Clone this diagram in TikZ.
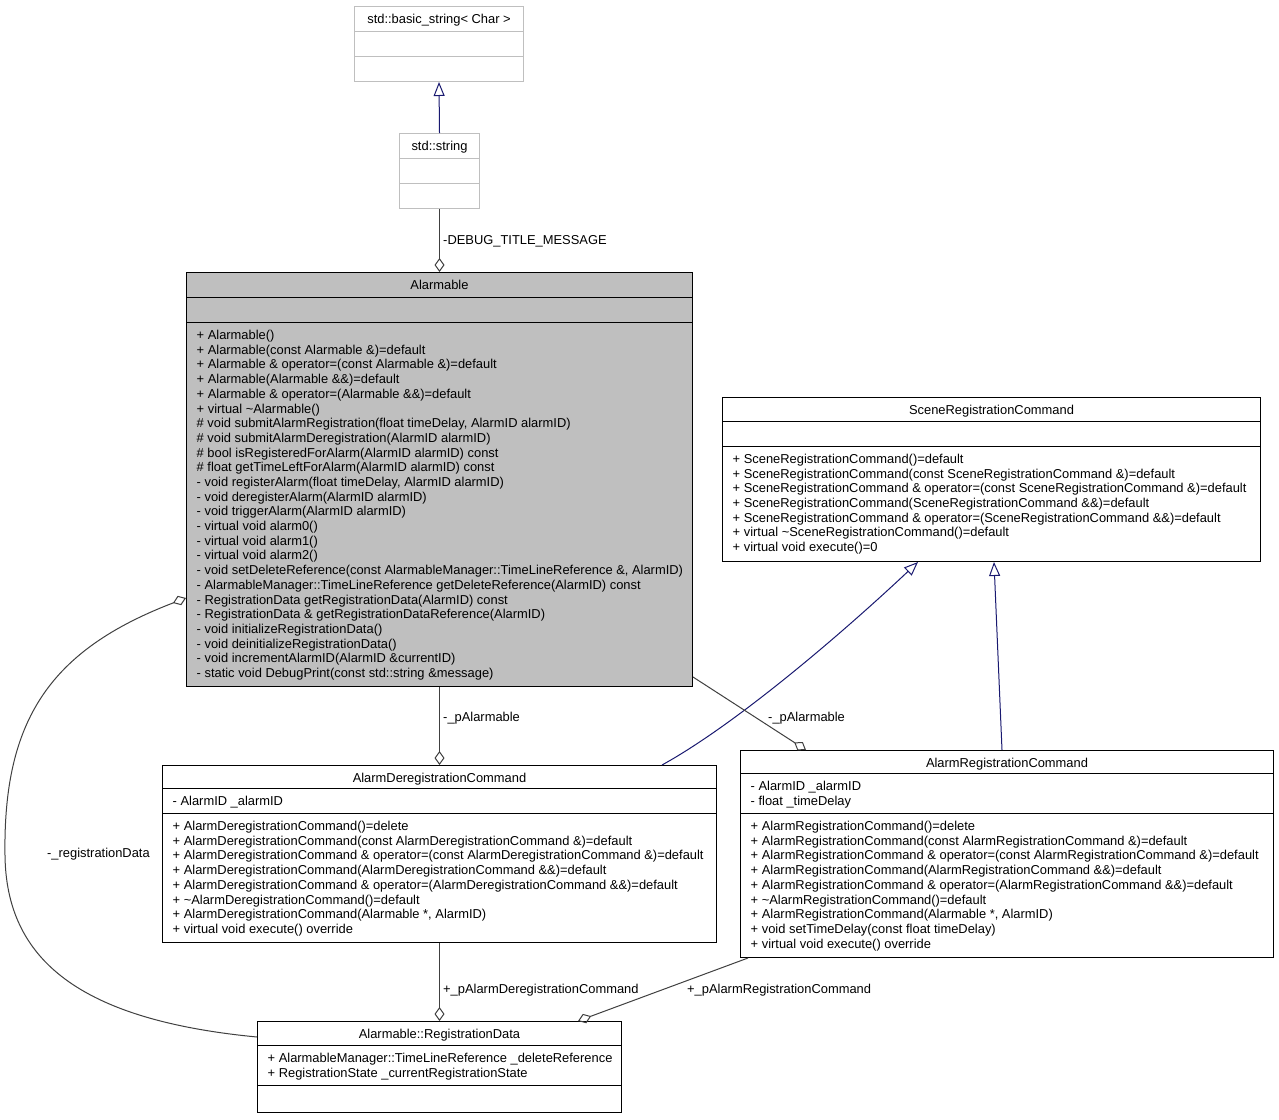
\documentclass[tikz,border=0pt]{standalone}
\usepackage{fontspec}
\setmainfont{Liberation Sans}
\usepackage{tikz}
\usetikzlibrary{arrows.meta, positioning, calc}
\definecolor{edgegray}{RGB}{64,64,64}
\definecolor{inheritblue}{RGB}{25,25,112}
\definecolor{extgray}{RGB}{191,191,191}
\definecolor{classfill}{RGB}{191,191,191}
\newcommand{\umlfont}{\fontsize{12.9}{14.7}\selectfont}
\tikzset{
  classbox/.style={draw=black, line width=1pt, fill=white, anchor=north west, inner sep=0pt},
  extbox/.style={classbox, draw=extgray},
  classtitle/.style={anchor=base, inner sep=0pt, font=\umlfont},
  members/.style={anchor=north west, inner sep=0pt, align=left, font=\umlfont},
  rolelabel/.style={anchor=base west, inner sep=0pt, font=\umlfont},
  aggr/.style={draw=edgegray, line width=1pt, -{Diamond[open, length=14pt, width=10pt]}},
  inherit/.style={draw=inheritblue, line width=1pt, -{Triangle[open, length=14pt, width=11pt]}},
}

\begin{document}
\begin{tikzpicture}[x=1pt, y=-1pt]
    \path[fill=white] (0,0) rectangle (1279,1119);

    % external string classes
    \node[extbox, minimum width=169pt, minimum height=75pt] (basicstring) at (354,6) {};
    \draw[extgray, line width=1pt] ([yshift=-25pt]basicstring.north west) -- ([yshift=-25pt]basicstring.north east)
                                   ([yshift=-50pt]basicstring.north west) -- ([yshift=-50pt]basicstring.north east);
    \node[classtitle] (basicstringtitle) at ([yshift=-17.5pt]basicstring.north) {std::basic\_string< Char >};

    \node[extbox, minimum width=80pt, minimum height=75pt] (stdstring) at (399,133) {};
    \draw[extgray, line width=1pt] ([yshift=-25pt]stdstring.north west) -- ([yshift=-25pt]stdstring.north east)
                                   ([yshift=-50pt]stdstring.north west) -- ([yshift=-50pt]stdstring.north east);
    \node[classtitle] (stdstringtitle) at ([yshift=-17.5pt]stdstring.north) {std::string};

    % Alarmable
    \node[classbox, fill=classfill, minimum width=506pt, minimum height=414pt] (alarmable) at (186,272) {};
    \draw[line width=1pt] ([yshift=-25pt]alarmable.north west) -- ([yshift=-25pt]alarmable.north east)
                          ([yshift=-50pt]alarmable.north west) -- ([yshift=-50pt]alarmable.north east);
    \node[classtitle] (alarmabletitle) at ([yshift=-17.5pt]alarmable.north) {Alarmable};
    \node[members] (alarmableops) at ([xshift=10.5pt, yshift=-57pt]alarmable.north west)
      {\strut + Alarmable()\\
       + Alarmable(const Alarmable \&)=default\\
       + Alarmable \& operator=(const Alarmable \&)=default\\
       + Alarmable(Alarmable \&\&)=default\\
       + Alarmable \& operator=(Alarmable \&\&)=default\\
       + virtual \textasciitilde Alarmable()\\
       \# void submitAlarmRegistration(float timeDelay, AlarmID alarmID)\\
       \# void submitAlarmDeregistration(AlarmID alarmID)\\
       \# bool isRegisteredForAlarm(AlarmID alarmID) const\\
       \# float getTimeLeftForAlarm(AlarmID alarmID) const\\
       - void registerAlarm(float timeDelay, AlarmID alarmID)\\
       - void deregisterAlarm(AlarmID alarmID)\\
       - void triggerAlarm(AlarmID alarmID)\\
       - virtual void alarm0()\\
       - virtual void alarm1()\\
       - virtual void alarm2()\\
       - void setDeleteReference(const AlarmableManager::TimeLineReference \&, AlarmID)\\
       - AlarmableManager::TimeLineReference getDeleteReference(AlarmID) const\\
       - RegistrationData getRegistrationData(AlarmID) const\\
       - RegistrationData \& getRegistrationDataReference(AlarmID)\\
       - void initializeRegistrationData()\\
       - void deinitializeRegistrationData()\\
       - void incrementAlarmID(AlarmID \&currentID)\\
       - static void DebugPrint(const std::string \&message)};

    % SceneRegistrationCommand
    \node[classbox, minimum width=538pt, minimum height=164pt] (scene) at (722,397) {};
    \draw[line width=1pt] ([yshift=-24pt]scene.north west) -- ([yshift=-24pt]scene.north east)
                          ([yshift=-49pt]scene.north west) -- ([yshift=-49pt]scene.north east);
    \node[classtitle] (scenetitle) at ([yshift=-17.5pt]scene.north) {SceneRegistrationCommand};
    \node[members] (sceneops) at ([xshift=10.5pt, yshift=-56pt]scene.north west)
      {\strut + SceneRegistrationCommand()=default\\
       + SceneRegistrationCommand(const SceneRegistrationCommand \&)=default\\
       + SceneRegistrationCommand \& operator=(const SceneRegistrationCommand \&)=default\\
       + SceneRegistrationCommand(SceneRegistrationCommand \&\&)=default\\
       + SceneRegistrationCommand \& operator=(SceneRegistrationCommand \&\&)=default\\
       + virtual \textasciitilde SceneRegistrationCommand()=default\\
       + virtual void execute()=0};

    % AlarmDeregistrationCommand
    \node[classbox, minimum width=554pt, minimum height=177pt] (dereg) at (162,765) {};
    \draw[line width=1pt] ([yshift=-23pt]dereg.north west) -- ([yshift=-23pt]dereg.north east)
                          ([yshift=-48pt]dereg.north west) -- ([yshift=-48pt]dereg.north east);
    \node[classtitle] (deregtitle) at ([yshift=-17pt]dereg.north) {AlarmDeregistrationCommand};
    \node[members] (deregattrs) at ([xshift=10.5pt, yshift=-30pt]dereg.north west)
      {\strut - AlarmID \_alarmID};
    \node[members] (deregops) at ([xshift=10.5pt, yshift=-55pt]dereg.north west)
      {\strut + AlarmDeregistrationCommand()=delete\\
       + AlarmDeregistrationCommand(const AlarmDeregistrationCommand \&)=default\\
       + AlarmDeregistrationCommand \& operator=(const AlarmDeregistrationCommand \&)=default\\
       + AlarmDeregistrationCommand(AlarmDeregistrationCommand \&\&)=default\\
       + AlarmDeregistrationCommand \& operator=(AlarmDeregistrationCommand \&\&)=default\\
       + \textasciitilde AlarmDeregistrationCommand()=default\\
       + AlarmDeregistrationCommand(Alarmable *, AlarmID)\\
       + virtual void execute() override};

    % AlarmRegistrationCommand
    \node[classbox, minimum width=533pt, minimum height=207pt] (reg) at (740,750) {};
    \draw[line width=1pt] ([yshift=-23pt]reg.north west) -- ([yshift=-23pt]reg.north east)
                          ([yshift=-63pt]reg.north west) -- ([yshift=-63pt]reg.north east);
    \node[classtitle] (regtitle) at ([yshift=-17pt]reg.north) {AlarmRegistrationCommand};
    \node[members] (regattrs) at ([xshift=10.5pt, yshift=-30pt]reg.north west)
      {\strut - AlarmID \_alarmID\\
       - float \_timeDelay};
    \node[members] (regops) at ([xshift=10.5pt, yshift=-70pt]reg.north west)
      {\strut + AlarmRegistrationCommand()=delete\\
       + AlarmRegistrationCommand(const AlarmRegistrationCommand \&)=default\\
       + AlarmRegistrationCommand \& operator=(const AlarmRegistrationCommand \&)=default\\
       + AlarmRegistrationCommand(AlarmRegistrationCommand \&\&)=default\\
       + AlarmRegistrationCommand \& operator=(AlarmRegistrationCommand \&\&)=default\\
       + \textasciitilde AlarmRegistrationCommand()=default\\
       + AlarmRegistrationCommand(Alarmable *, AlarmID)\\
       + void setTimeDelay(const float timeDelay)\\
       + virtual void execute() override};

    % Alarmable::RegistrationData
    \node[classbox, minimum width=364pt, minimum height=91pt] (regdata) at (257,1021) {};
    \draw[line width=1pt] ([yshift=-24pt]regdata.north west) -- ([yshift=-24pt]regdata.north east)
                          ([yshift=-64pt]regdata.north west) -- ([yshift=-64pt]regdata.north east);
    \node[classtitle] (regdatatitle) at ([yshift=-17.5pt]regdata.north) {Alarmable::RegistrationData};
    \node[members] (regdataattrs) at ([xshift=10.5pt, yshift=-31pt]regdata.north west)
      {\strut + AlarmableManager::TimeLineReference \_deleteReference\\
       + RegistrationState \_currentRegistrationState};

    % inheritance
    \draw[inherit] (stdstring.north) -- (basicstring.south);
    \draw[inherit] ([xshift=500pt]dereg.north west) .. controls +(78,-43) and +(-68,64) .. ([xshift=196pt]scene.south west);
    \draw[inherit] ([xshift=262pt]reg.north west) -- ([xshift=272pt]scene.south west);

    % aggregations
    \draw[aggr] (stdstring.south) -- (alarmable.north);
    \draw[aggr] (alarmable.south) -- (dereg.north);
    \draw[aggr] ([yshift=10pt]alarmable.south east) -- ([xshift=66pt]reg.north west);
    \draw[aggr] (dereg.south) -- (regdata.north);
    \draw[aggr] ([xshift=8pt]reg.south west) -- ([xshift=321pt]regdata.north west);
    \draw[aggr] ([yshift=-16pt]regdata.north west) .. controls (80,1020) and (6,960) .. (5,855)
                .. controls (3,720) and (50,650) .. ([yshift=-326pt]alarmable.north west);

    % role labels
    \node[rolelabel] (lbldebug) at (443,244.5) {-DEBUG\_TITLE\_MESSAGE};
    \node[rolelabel] (lbldereg) at (443,721.5) {-\_pAlarmable};
    \node[rolelabel] (lblreg) at (768,721.5) {-\_pAlarmable};
    \node[rolelabel] (lblderegcmd) at (443,993.5) {+\_pAlarmDeregistrationCommand};
    \node[rolelabel] (lblregcmd) at (687,993.5) {+\_pAlarmRegistrationCommand};
    \node[rolelabel] (lblregdata) at (47,857.5) {-\_registrationData};
\end{tikzpicture}
\end{document}
